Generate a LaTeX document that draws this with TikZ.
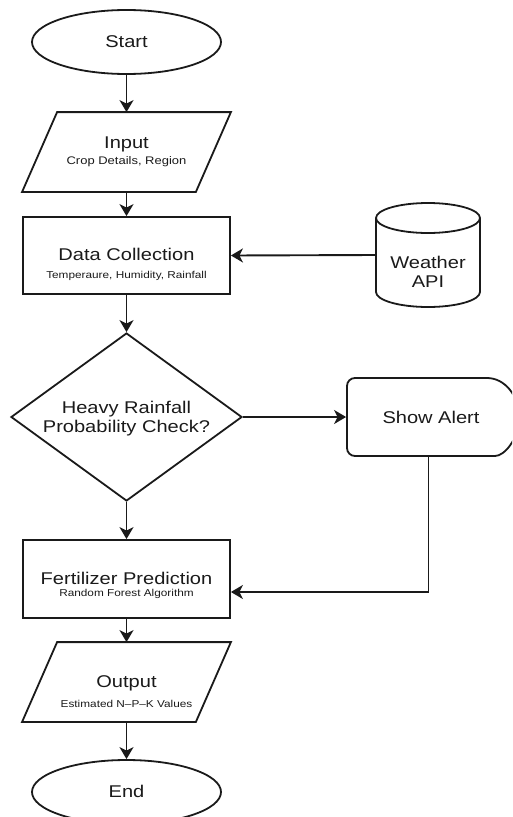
\documentclass[tikz,border=0pt]{standalone}
\usepackage{fontspec}
\setmainfont{Liberation Sans}[FakeStretch=1.18]
\usetikzlibrary{shapes.geometric,arrows.meta}

\definecolor{ink}{HTML}{1A1A1A}

\tikzset{
  x=1pt, y=-1pt,
  arr/.style={-{Stealth[length=12pt,width=14pt,inset=3.5pt]}, line width=1.9pt},
  term/.style={ellipse, draw, minimum width=189pt, minimum height=64pt, inner sep=0pt},
  slot/.style={rectangle, inner sep=0pt, minimum width=207pt, minimum height=78pt},
  procbox/.style={slot, draw},
  title/.style={anchor=base, font=\fontsize{17}{20}\selectfont, text=ink, inner sep=0pt},
  sub/.style={anchor=base, font=\fontsize{10}{12}\selectfont, text=ink, inner sep=0pt},
}

\begin{document}
\begin{tikzpicture}[color=ink, line width=1.8pt]
\useasboundingbox (0,0) rectangle (512,817);
\clip (0,0) rectangle (512,817);

% ---- main column -------------------------------------------------------
\node[term] (start) at (126.5,42) {};
\node[title] (startT) at (126.5,47) {Start};

\node[slot] (input) at (126.5,152) {};
\draw ([xshift=35pt]input.north west) -- (input.north east)
      -- ([xshift=-35pt]input.south east) -- (input.south west) -- cycle;
\node[title] (inputT) at (126.5,148) {Input};
\node[sub, font=\fontsize{11}{13}\selectfont] (inputS) at (126.5,164) {Crop Details, Region};

\node[procbox, minimum height=77pt] (dc) at (126.5,255.5) {};
\node[title] (dcT) at (126.5,260) {Data Collection};
\node[sub] (dcS) at (126.5,278) {Temperaure, Humidity, Rainfall};

\node[diamond, draw, minimum width=231pt, minimum height=168pt, inner sep=0pt] (check) at (126.5,417) {};
\node[title] (checkT1) at (126.5,413) {Heavy Rainfall};
\node[title] (checkT2) at (126.5,432) {Probability Check?};

\node[procbox] (fert) at (126.5,579) {};
\node[title] (fertT) at (126.5,584) {Fertilizer Prediction};
\node[sub] (fertS) at (126.5,596) {Random Forest Algorithm};

\node[slot] (output) at (126.5,682) {};
\draw ([xshift=35pt]output.north west) -- (output.north east)
      -- ([xshift=-35pt]output.south east) -- (output.south west) -- cycle;
\node[title] (outputT) at (126.5,687) {Output};
\node[sub] (outputS) at (126.5,707) {Estimated N--P--K Values};

\node[term] (end) at (126.5,792) {};
\node[title] (endT) at (126.5,797) {End};

% ---- weather database (cylinder) ---------------------------------------
\node[rectangle, inner sep=0pt, minimum width=104pt, minimum height=104pt] (api) at (428,255) {};
\draw (428,218) ellipse [x radius=52, y radius=15];
\draw (376,218) -- (376,292) arc[start angle=180, end angle=0, x radius=52, y radius=15] -- (480,218);
\node[title] (apiT1) at (428,268) {Weather};
\node[title] (apiT2) at (428,287) {API};

% ---- alert display shape ----------------------------------------------
\node[rectangle, inner sep=0pt, minimum width=163pt, minimum height=78pt] (alert) at (428.5,417) {};
\draw[rounded corners=8pt] (487,378) -- (347,378) -- (347,456) -- (487,456)
      [sharp corners] arc[start angle=90, end angle=-90, x radius=32, y radius=39];
\node[title] (alertT) at (431,423) {Show Alert};

% ---- connectors ---------------------------------------------------------
\draw[arr] (start.south) -- (input.north);
\draw[arr] (input.south) -- (dc.north);
\draw[arr] (dc.south) -- (check.north);
\draw[arr] (check.south) -- (fert.north);
\draw[arr] (fert.south) -- (output.north);
\draw[arr] (output.south) -- (end.north);
\draw[arr] (api.west) -- (dc.east);
\draw[arr] (check.east) -- (alert.west);
\draw[arr] (alert.south) |- ([yshift=-13pt]fert.east);
\end{tikzpicture}
\end{document}
